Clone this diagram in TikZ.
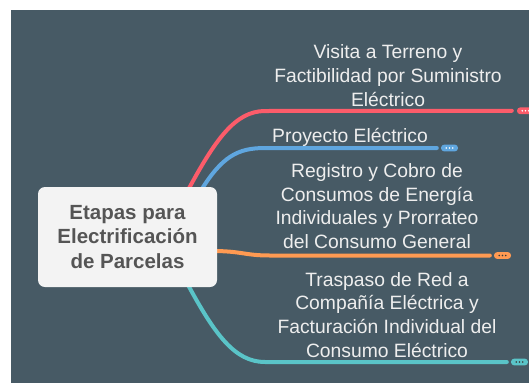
\documentclass[tikz,border=0pt]{standalone}
\usepackage{fontspec}
\setmainfont{Liberation Sans}
\definecolor{bgc}{HTML}{475A65}
\definecolor{redc}{HTML}{FC5C6A}
\definecolor{bluec}{HTML}{5FA6DF}
\definecolor{orangec}{HTML}{FF9A52}
\definecolor{tealc}{HTML}{5AC4C8}
\definecolor{txtc}{HTML}{EEEEEE}
\definecolor{rootfill}{HTML}{F3F3F3}
\definecolor{roottxt}{HTML}{555555}
\definecolor{dotdark}{HTML}{3A3A3A}
\tikzset{
  branch/.style={line width=4pt, line cap=round},
  topic/.style={text=txtc, align=center, inner sep=0pt, anchor=base,
    font=\fontsize{19.3}{23.6}\selectfont},
  pill/.style={rounded corners=3.2pt, minimum width=17pt, minimum height=6.8pt, inner sep=0pt, draw=none},
  dotw/.style={fill=white, draw=none},
  dotd/.style={fill=dotdark, draw=none},
}
\begin{document}
\begin{tikzpicture}[x=1pt,y=-1pt]
\useasboundingbox (0,0) rectangle (529,383);
\fill[white] (0,0) rectangle (529,383);
\fill[bgc] (11,10) rectangle (529,383);

% start / turning coordinates
\coordinate (rs) at (187,192);
\coordinate (bs) at (200,192);
\coordinate (os) at (212,251);
\coordinate (ts) at (187,283);
\coordinate (r0) at (265,111);
\coordinate (b0) at (265,148);
\coordinate (o0) at (270,255.5);
\coordinate (t0) at (265,362);

% pills
\node[pill, fill=redc] (rp) at (525.5,110.8) {};
\node[pill, fill=bluec] (bp) at (449.5,148) {};
\node[pill, fill=orangec] (op) at (502.5,255.5) {};
\node[pill, fill=tealc] (tp) at (519.5,362) {};
\foreach \p/\s in {rp/dotw, bp/dotw, op/dotd, tp/dotd}{
  \foreach \dx in {-3.2,0,3.2}{
    \fill[\s] ([xshift=\dx pt]\p.center) circle (0.9pt);
  }
}

% branches
\draw[branch, redc] (rs) .. controls (215,140) and (235,111) .. (r0) -- ([xshift=-5pt]rp.west);
\draw[branch, bluec] (bs) .. controls (222,156) and (238,148) .. (b0) -- ([xshift=-4pt]bp.west);
\draw[branch, orangec] (os) .. controls (242,251) and (244,255.5) .. (o0) -- ([xshift=-4pt]op.west);
\draw[branch, tealc] (ts) .. controls (215,335) and (235,362) .. (t0) -- ([xshift=-4pt]tp.west);

% root
\node[fill=rootfill, rounded corners=7pt, minimum width=179pt, minimum height=100pt,
  text=roottxt, align=center, inner sep=0pt,
  font=\fontsize{20.5}{24.5}\selectfont\bfseries] (root) at (127.5,237)
  {Etapas para\\Electrificación\\de Parcelas};

% topics (anchor base = baseline of last line)
\node[topic] (t1) at (388,106) {Visita a Terreno y\\Factibilidad por Suministro\\Eléctrico};
\node[topic] (t2) at (350,142) {Proyecto Eléctrico};
\node[topic] (t3) at (377,248.5) {Registro y Cobro de\\Consumos de Energía\\Individuales y Prorrateo\\del Consumo General};
\node[topic] (t4) at (387,357) {Traspaso de Red a\\Compañía Eléctrica y\\Facturación Individual del\\Consumo Eléctrico};
\end{tikzpicture}
\end{document}
